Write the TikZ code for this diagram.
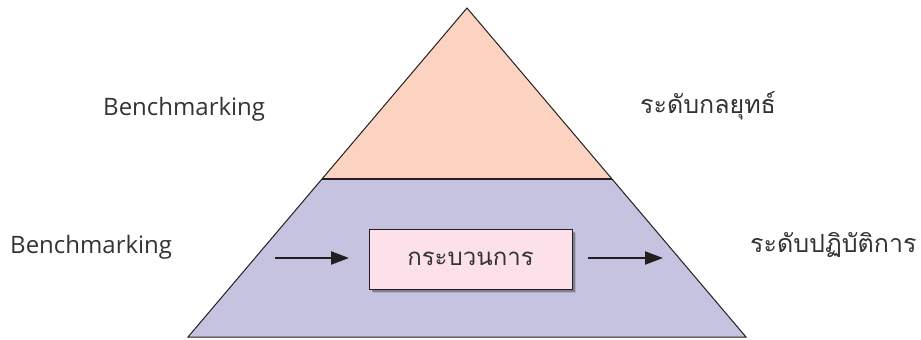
\documentclass[tikz,border=0pt]{standalone}
\usepackage{fontspec}
\setmainfont{Open Sans}
\newfontfamily\thaifont[Script=Thai]{Loma}
\usetikzlibrary{arrows.meta,shadows}
\definecolor{peach}{HTML}{FCD3C1}
\definecolor{lav}{HTML}{C6C3E1}
\definecolor{boxpink}{HTML}{FDE1EA}
\definecolor{ink}{HTML}{231F20}
\definecolor{txt}{HTML}{333333}
\tikzset{
  lbl/.style={font=\fontsize{24}{28}\selectfont, text=txt, inner sep=0pt, anchor=base west},
  thlbl/.style={font=\thaifont\fontsize{25}{28}\selectfont, text=txt, inner sep=0pt, anchor=base west},
  flow/.style={-{Triangle[length=18pt,width=13pt]}, line width=2.2pt, draw=ink},
  procbox/.style={draw=ink, line width=1pt, fill=boxpink, minimum width=203pt, minimum height=60pt, inner sep=0pt,
    font=\thaifont\fontsize{24}{28}\selectfont, text=txt,
    drop shadow={shadow xshift=4pt, shadow yshift=-4pt, fill=black, opacity=0.12},
    drop shadow={shadow xshift=2.5pt, shadow yshift=-2.5pt, fill=black, opacity=0.25}}
}
\begin{document}
\begin{tikzpicture}[x=1pt,y=-1pt]
\useasboundingbox (0,0) rectangle (921,340);
\coordinate (apex) at (467,8);
\coordinate (ml) at (322,179);
\coordinate (mr) at (612,179);
\coordinate (bl) at (188,337);
\coordinate (br) at (746,337);
\fill[peach] (apex) -- (ml) -- (mr) -- cycle;
\fill[lav] (ml) -- (bl) -- (br) -- (mr) -- cycle;
\draw[ink, line width=1pt, line join=miter] (apex) -- (bl) -- (br) -- cycle;
\draw[ink, line width=1.2pt] (ml) -- (mr);
\node[procbox] (proc) at (470.5,259) {กระบวนการ};
\coordinate (ainS) at (275,258);
\coordinate (ainE) at (349,258);
\coordinate (aoutS) at (588,258);
\coordinate (aoutE) at (663,258);
\draw[flow] (ainS) -- (ainE);
\draw[flow] (aoutS) -- (aoutE);
\node[lbl] (b1) at (103,115) {Benchmarking};
\node[lbl] (b2) at (10,253) {Benchmarking};
\node[thlbl] (t1) at (640,113) {ระดับกลยุทธ์};
\node[thlbl] (t2) at (750,252) {ระดับปฏิบัติการ};
\end{tikzpicture}
\end{document}
